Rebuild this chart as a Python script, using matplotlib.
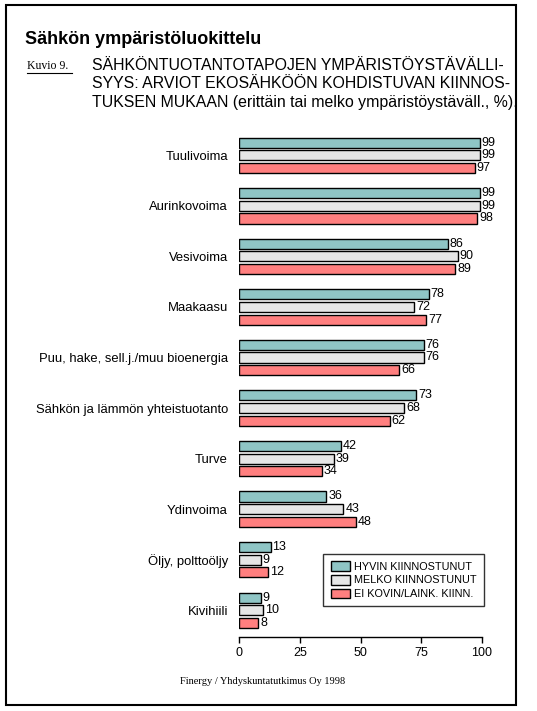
import matplotlib
matplotlib.use("Agg")
import matplotlib.pyplot as plt
import matplotlib.patches as patches
import numpy as np

# data
categories = ["Tuulivoima", "Aurinkovoima", "Vesivoima", "Maakaasu",
              "Puu, hake, sell.j./muu bioenergia", "Sähkön ja lämmön yhteistuotanto",
              "Turve", "Ydinvoima", "Öljy, polttoöljy", "Kivihiili"]
hyvin = [99, 99, 86, 78, 76, 73, 42, 36, 13, 9]
melko = [99, 99, 90, 72, 76, 68, 39, 43, 9, 10]
ei_kovin = [97, 98, 89, 77, 66, 62, 34, 48, 12, 8]
series_names = ["HYVIN KIINNOSTUNUT", "MELKO KIINNOSTUNUT", "EI KOVIN/LAINK. KIINN."]
colors = ["#8fc5c5", "#e6e6e6", "#ff7f7f"]
x_ticks = [0, 25, 50, 75, 100]

W, H = 537, 711
plt.rcParams['font.family'] = ['Liberation Sans', 'DejaVu Sans']

fig = plt.figure(figsize=(W / 100, H / 100), dpi=100)

def fx(px):
    return px / W

def fy(py):
    return 1 - py / H

# frame around everything
fig.add_artist(patches.Rectangle((fx(6), fy(705)), fx(510), 700 / H, transform=fig.transFigure,
                                 fill=False, edgecolor="black", linewidth=1.5))

# title texts
fig.text(fx(25), fy(40), "Sähkön ympäristöluokittelu", fontsize=13, fontweight="bold",
         va="center", ha="left")
fig.text(fx(27), fy(66), "Kuvio 9.", fontsize=8.5, family="Liberation Serif", va="center", ha="left")
fig.add_artist(plt.Line2D([fx(27), fx(72)], [fy(73), fy(73)], color="black", linewidth=0.8,
                          transform=fig.transFigure))
subtitle = ["SÄHKÖNTUOTANTOTAPOJEN YMPÄRISTÖYSTÄVÄLLI-",
            "SYYS: ARVIOT EKOSÄHKÖÖN KOHDISTUVAN KIINNOS-",
            "TUKSEN MUKAAN (erittäin tai melko ympäristöystäväll., %)."]
for i, line in enumerate(subtitle):
    fig.text(fx(92), fy(65.5 + i * 18.5), line, fontsize=11.4, va="center", ha="left")

# chart
ax = fig.add_axes([fx(239), fy(637), fx(482 - 239), (637 - 130) / H])
y = np.arange(len(categories))
offsets = [-0.25, 0, 0.25]
bar_h = 0.2
for vals, off, col, name in zip([hyvin, melko, ei_kovin], offsets, colors, series_names):
    ax.barh(y + off, vals, height=bar_h, color=col, edgecolor="black",
            linewidth=1, label=name)
    for v, yy in zip(vals, y + off):
        ax.text(v + 0.8, yy, str(v), va="center", ha="left", fontsize=9)

ax.set_xlim(0, 100)
ax.set_ylim(9.53, -0.5)
ax.set_xticks(x_ticks)
ax.set_xticklabels([str(t) for t in x_ticks], fontsize=9)
ax.tick_params(axis="x", direction="out", length=4, width=1, pad=3)
ax.set_yticks(y)
ax.set_yticklabels(categories, fontsize=9.4)
ax.tick_params(axis="y", length=0, pad=8)
for s in ["top", "right", "left"]:
    ax.spines[s].set_visible(False)
ax.spines["bottom"].set_linewidth(1)

leg = ax.legend(loc="upper right", bbox_to_anchor=((484 - 239) / 243, (637 - 554) / 507),
                fontsize=7.8, frameon=True, fancybox=False, edgecolor="black",
                handlelength=1.8, handleheight=1.0, borderpad=0.65, labelspacing=0.3,
                handletextpad=0.4, borderaxespad=0)
leg.get_frame().set_linewidth(1)

fig.text(fx(263), fy(681), "Finergy / Yhdyskuntatutkimus Oy 1998", fontsize=7.5,
         family="Liberation Serif", va="center", ha="center")

fig.savefig("out.png", dpi=100)
